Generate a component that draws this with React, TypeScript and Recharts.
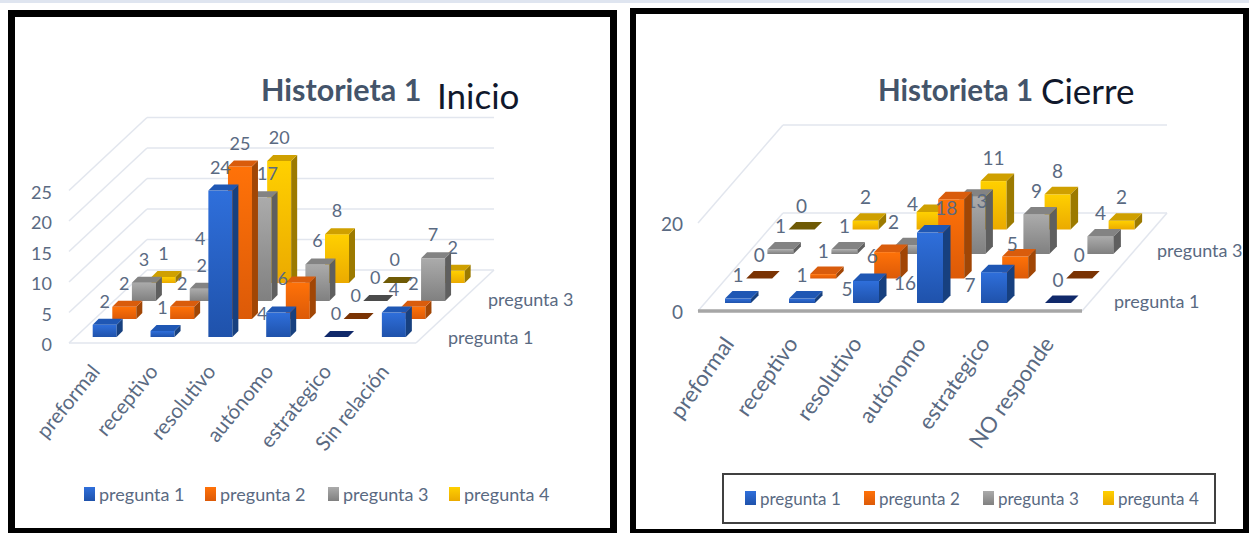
import { BarChart, Bar, XAxis, YAxis, CartesianGrid } from "recharts";

const SERIES = ["pregunta 1", "pregunta 2", "pregunta 3", "pregunta 4"];

const INICIO_CATEGORIES = ["preformal", "receptivo", "resolutivo", "autónomo", "estrategico", "Sin relación"];
const INICIO_P1 = [2, 1, 24, 4, 0, 4];
const INICIO_P2 = [2, 2, 25, 6, 0, 2];
const INICIO_P3 = [3, 2, 17, 6, 0, 7];
const INICIO_P4 = [1, 4, 20, 8, 0, 2];
const INICIO_TICKS = [0, 5, 10, 15, 20, 25];

const CIERRE_CATEGORIES = ["preformal", "receptivo", "resolutivo", "autónomo", "estrategico", "NO responde"];
const CIERRE_P1 = [1, 1, 5, 16, 7, 0];
const CIERRE_P2 = [0, 1, 6, 18, 5, 0];
const CIERRE_P3 = [1, 1, 2, 13, 9, 4];
const CIERRE_P4 = [0, 2, 4, 11, 8, 2];
const CIERRE_TICKS = [0, 20];

const buildRows = (categories: string[], columns: number[][]) =>
  categories.map((category, i) => {
    const row: any = { category };
    SERIES.forEach((name, s) => {
      row[name] = columns[s][i];
    });
    return row;
  });

const PALETTE = [
  { light: "#2f6fdb", dark: "#1f52ab", top: "#1f57b4", side: "#17407f", zero: "#10296a" },
  { light: "#ff7208", dark: "#dc5a08", top: "#d95c0c", side: "#a14605", zero: "#7a3303" },
  { light: "#ababab", dark: "#808080", top: "#838383", side: "#5f5f5f", zero: "#4b4b4b" },
  { light: "#ffd000", dark: "#ebaa00", top: "#cfa000", side: "#9c7a00", zero: "#6f5a05" },
];

const FONT = "Lato, sans-serif";
const TEXT = "#5a6a82";
const GRID = "#e2e6ee";

// Excel leaves some data labels beside the bar rather than above it
const INICIO_NUDGES: Record<string, number[]> = {
  "receptivo/pregunta 4": [-21, 3],
  "resolutivo/pregunta 3": [8, 0],
  "autónomo/pregunta 1": [-16, 24],
  "autónomo/pregunta 2": [-15, 20],
};
const CIERRE_NUDGES: Record<string, number[]> = {
  "resolutivo/pregunta 1": [-19, 31],
  "autónomo/pregunta 1": [-25, 74],
  "estrategico/pregunta 1": [-24, 36],
  "resolutivo/pregunta 2": [-15, 27],
  "autónomo/pregunta 2": [-5, 32],
  "estrategico/pregunta 2": [-3, 11],
  "autónomo/pregunta 3": [4, 28],
  "resolutivo/pregunta 3": [-15, 0],
  "resolutivo/pregunta 4": [-17, 16],
};

// One extruded bar: front face from the library's rect, pushed back along the depth axis
function makeCuboid(s: number, view: any) {
  return function Cuboid(props: any) {
    const { x, y, width, height, payload } = props;
    const name = SERIES[s];
    const value = payload[name];
    const colors = PALETTE[s];
    const fx = x + view.baseX + view.stepX * s;
    const fy = y + view.baseY + view.stepY * s;
    const h = Math.max(height, 0);
    const d = view.extrude;
    const nudge = view.nudges[`${payload.category}/${name}`] || [0, 0];
    return (
      <g>
        {h > 0 && (
          <>
            <rect x={fx} y={fy} width={width} height={h} fill={`url(#${view.id}-face-${s})`} />
            <path
              d={`M${fx + width},${fy} l${d},${-d} v${h} l${-d},${d} z`}
              fill={colors.side}
            />
          </>
        )}
        <path
          d={`M${fx},${fy} l${d},${-d} h${width} l${-d},${d} z`}
          fill={value === 0 ? colors.zero : colors.top}
        />
        <text
          x={fx + width / 2 + nudge[0]}
          y={fy - 24 + nudge[1]}
          textAnchor="middle"
          dominantBaseline="central"
          fontFamily={FONT}
          fontSize={view.fontSize}
          fill={TEXT}
        >
          {value}
        </text>
      </g>
    );
  };
}

function Chart3D({ view }: { view: any }) {
  const { plot, depthX, depthY, ticks, maxTick, rows, categoriesAngle } = view;

  // Each horizontal grid value becomes a side-wall diagonal plus a back-wall line
  const wallLine = (p: any) => {
    const y = p.y1;
    const isFloor = Math.abs(y - (plot.top + plot.height)) < 1;
    return (
      <g key={`wall-${p.index}-${y}`}>
        <line x1={p.x1} y1={y} x2={p.x1 + depthX} y2={y - depthY} stroke={GRID} strokeWidth={1.5} />
        <line x1={p.x1 + depthX} y1={y - depthY} x2={p.x2 + depthX} y2={y - depthY} stroke={GRID} strokeWidth={1.5} />
        {isFloor && (
          <>
            <line x1={p.x2} y1={y} x2={p.x2 + depthX} y2={y - depthY} stroke={GRID} strokeWidth={1.5} />
            <line x1={p.x1} y1={y} x2={p.x2} y2={y} stroke={view.floorStroke} strokeWidth={view.floorWidth} />
          </>
        )}
      </g>
    );
  };

  const yTick = (p: any) => (
    <text
      x={plot.left + view.yTickDx}
      y={p.y + view.yTickDy}
      textAnchor="end"
      dominantBaseline="central"
      fontFamily={FONT}
      fontSize={view.fontSize}
      fill={TEXT}
    >
      {p.payload.value}
    </text>
  );

  const xTick = (p: any) => {
    const tx = p.x + view.xTickDx;
    const ty = plot.top + plot.height + view.xTickDy;
    return (
      <text
        x={tx}
        y={ty}
        transform={`rotate(${categoriesAngle} ${tx} ${ty})`}
        textAnchor="end"
        dominantBaseline="central"
        fontFamily={FONT}
        fontSize={view.catFontSize}
        fill={TEXT}
      >
        {p.payload.value}
      </text>
    );
  };

  return (
    <div style={{ position: "absolute", left: 0, top: 0 }}>
      <BarChart
        width={1249}
        height={533}
        data={rows}
        barSize={view.barSize}
        barGap={-view.barSize}
        margin={{
          left: plot.left - 1,
          top: plot.top,
          right: 1249 - plot.left - plot.width,
          bottom: 533 - plot.top - plot.height - 1,
        }}
      >
        <defs>
          {PALETTE.map((c, s) => (
            <linearGradient key={s} id={`${view.id}-face-${s}`} x1="0" y1="0" x2="0" y2="1">
              <stop offset="0%" stopColor={c.light} />
              <stop offset="100%" stopColor={c.dark} />
            </linearGradient>
          ))}
        </defs>
        <CartesianGrid vertical={false} horizontal={wallLine} />
        <XAxis
          dataKey="category"
          height={1}
          axisLine={false}
          tickLine={false}
          tickSize={0}
          tickMargin={0}
          interval={0}
          tick={xTick}
        />
        <YAxis
          width={1}
          domain={[0, maxTick]}
          ticks={ticks}
          interval={0}
          axisLine={false}
          tickLine={false}
          tickSize={0}
          tickMargin={0}
          tick={yTick}
        />
        {/* back row first so the front rows paint over it */}
        {[3, 2, 1, 0].map((s) => (
          <Bar
            key={SERIES[s]}
            dataKey={SERIES[s]}
            isAnimationActive={false}
            shape={makeCuboid(s, view)}
          />
        ))}
      </BarChart>
    </div>
  );
}

const label = (left: number, top: number, text: string, style: any = {}) => (
  <div
    style={{
      position: "absolute",
      left,
      top,
      transform: "translateY(-50%)",
      whiteSpace: "nowrap",
      fontFamily: FONT,
      color: TEXT,
      fontSize: 18,
      lineHeight: 1,
      ...style,
    }}
  >
    {text}
  </div>
);

const legend = (swatches: number[], y: number, fontSize: number) =>
  SERIES.map((name, s) => (
    <div key={name}>
      <div
        style={{
          position: "absolute",
          left: swatches[s],
          top: y - 7,
          width: 11,
          height: 14,
          background: `linear-gradient(${PALETTE[s].light}, ${PALETTE[s].dark})`,
        }}
      />
      {label(swatches[s] + 15, y, name, { fontSize })}
    </div>
  ));

const frame = (left: number, top: number, width: number, height: number, border: number, color: string) => (
  <div
    style={{
      position: "absolute",
      left,
      top,
      width,
      height,
      boxSizing: "border-box",
      border: `${border}px solid ${color}`,
    }}
  />
);

const inicioView = {
  id: "inicio",
  rows: buildRows(INICIO_CATEGORIES, [INICIO_P1, INICIO_P2, INICIO_P3, INICIO_P4]),
  ticks: INICIO_TICKS,
  maxTick: 25,
  plot: { left: 69, top: 190.5, width: 347, height: 152.5 },
  depthX: 78,
  depthY: 73,
  baseX: 6.7,
  baseY: -6,
  stepX: 19.6,
  stepY: -18,
  extrude: 6,
  barSize: 24,
  fontSize: 18,
  catFontSize: 20.5,
  categoriesAngle: -51,
  yTickDx: -17,
  yTickDy: 1,
  xTickDx: -3,
  xTickDy: 24,
  floorStroke: GRID,
  floorWidth: 1.5,
  nudges: INICIO_NUDGES,
};

const cierreView = {
  id: "cierre",
  rows: buildRows(CIERRE_CATEGORIES, [CIERRE_P1, CIERRE_P2, CIERRE_P3, CIERRE_P4]),
  ticks: CIERRE_TICKS,
  maxTick: 20,
  plot: { left: 698, top: 223, width: 384, height: 88 },
  depthX: 85,
  depthY: 98,
  baseX: 8,
  baseY: -8,
  stepX: 21.2,
  stepY: -24.5,
  extrude: 7.5,
  barSize: 26,
  fontSize: 19,
  catFontSize: 22,
  categoriesAngle: -55,
  yTickDx: -15,
  yTickDy: 0,
  xTickDx: -2,
  xTickDy: 28,
  floorStroke: "#a6a6a6",
  floorWidth: 3.5,
  nudges: CIERRE_NUDGES,
};

export default function App() {
  return (
    <div
      style={{
        position: "absolute",
        left: 0,
        top: 0,
        width: 1249,
        height: 533,
        overflow: "hidden",
        background: "#fff",
      }}
    >
      <div style={{ position: "absolute", left: 0, top: 0, width: 1249, height: 3, background: "#dfe5f0" }} />
      {frame(8, 10, 609, 525, 7, "#000")}
      {frame(630, 8, 619, 527, 6, "#000")}
      <Chart3D view={inicioView} />
      <Chart3D view={cierreView} />

      {label(261, 89, "Historieta 1", { fontSize: 30.5, fontWeight: 700, color: "#44546a" })}
      {label(425, 95, "Inicio", { fontSize: 35, color: "#10182c", background: "#fff", paddingLeft: 12, paddingRight: 6 })}
      {label(878, 90, "Historieta 1", { fontSize: 29.5, fontWeight: 700, color: "#44546a" })}
      {label(1041, 90, "Cierre", { fontSize: 35, color: "#10182c" })}

      {label(448, 337, "pregunta 1")}
      {label(488, 299, "pregunta 3")}
      {label(1114, 301, "pregunta 1")}
      {label(1157, 250, "pregunta 3")}

      {legend([84, 205, 328, 449], 494, 18)}
      {frame(722, 473, 494, 51, 2, "#404040")}
      {legend([745, 864, 983, 1103], 498, 17)}
    </div>
  );
}
